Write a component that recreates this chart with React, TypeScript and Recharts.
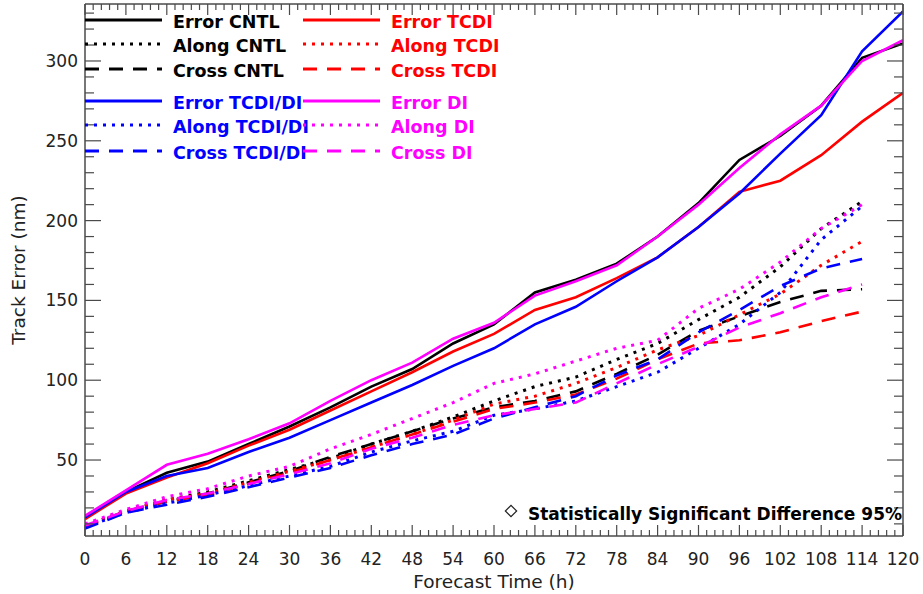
import React from 'react'
import { LineChart, Line, XAxis, YAxis } from 'recharts'

// forecast lead times (h)
const hours = [0, 6, 12, 18, 24, 30, 36, 42, 48, 54, 60, 66, 72, 78, 84, 90, 96, 102, 108, 114, 120]

// track errors (nm)
const errorCntl = [14, 30, 42, 49, 60, 71, 83, 96, 107, 123, 135, 155, 163, 173, 190, 211, 238, 253, 272, 302, 311]
const alongCntl = [9, 18, 25, 30, 37, 44, 51, 60, 68, 77, 87, 96, 102, 113, 123, 138, 152, 171, 195, 212]
const crossCntl = [8, 18, 24, 29, 36, 43, 52, 60, 68, 76, 83, 87, 93, 104, 116, 131, 140, 149, 156, 157]

const errorTcdi = [13, 29, 39, 48, 59, 69, 81, 93, 105, 118, 129, 144, 152, 164, 177, 196, 218, 225, 241, 262, 280]
const alongTcdi = [9, 18, 25, 29, 36, 43, 50, 58, 66, 75, 85, 90, 98, 108, 119, 128, 141, 154, 172, 187]
const crossTcdi = [8, 18, 24, 28, 35, 42, 50, 58, 66, 74, 82, 86, 91, 101, 113, 123, 125, 130, 137, 143]

const errorTcdiDi = [14, 30, 40, 45, 55, 64, 75, 86, 97, 109, 120, 135, 146, 162, 177, 196, 217, 242, 266, 306, 331]
const alongTcdiDi = [8, 17, 23, 28, 34, 40, 46, 55, 62, 68, 78, 82, 87, 96, 105, 120, 135, 155, 188, 209]
const crossTcdiDi = [7, 17, 22, 27, 33, 39, 45, 53, 60, 66, 76, 83, 90, 103, 113, 130, 144, 159, 170, 176]

const errorDi = [15, 31, 47, 54, 63, 73, 87, 100, 111, 126, 136, 153, 162, 172, 190, 210, 233, 254, 272, 300, 313]
const alongDi = [10, 19, 27, 32, 40, 46, 57, 66, 76, 86, 98, 104, 112, 120, 125, 145, 157, 174, 195, 210]
const crossDi = [9, 18, 25, 29, 35, 41, 48, 57, 64, 72, 78, 82, 86, 98, 110, 121, 133, 142, 152, 160]

const xLabels = hours
const yLabels = [50, 100, 150, 200, 250, 300]

const BLACK = '#000000'
const RED = '#ff0000'
const BLUE = '#0000ff'
const MAGENTA = '#ff00ff'
const DOTTED = '3 6'
const DASHED = '14 10'
const AXIS = '#4a4a4a'

const series = [
  { key: 'errorCntl', name: 'Error CNTL', values: errorCntl, color: BLACK, dash: undefined },
  { key: 'alongCntl', name: 'Along CNTL', values: alongCntl, color: BLACK, dash: DOTTED },
  { key: 'crossCntl', name: 'Cross CNTL', values: crossCntl, color: BLACK, dash: DASHED },
  { key: 'errorTcdi', name: 'Error TCDI', values: errorTcdi, color: RED, dash: undefined },
  { key: 'alongTcdi', name: 'Along TCDI', values: alongTcdi, color: RED, dash: DOTTED },
  { key: 'crossTcdi', name: 'Cross TCDI', values: crossTcdi, color: RED, dash: DASHED },
  { key: 'errorTcdiDi', name: 'Error TCDI/DI', values: errorTcdiDi, color: BLUE, dash: undefined },
  { key: 'alongTcdiDi', name: 'Along TCDI/DI', values: alongTcdiDi, color: BLUE, dash: DOTTED },
  { key: 'crossTcdiDi', name: 'Cross TCDI/DI', values: crossTcdiDi, color: BLUE, dash: DASHED },
  { key: 'errorDi', name: 'Error DI', values: errorDi, color: MAGENTA, dash: undefined },
  { key: 'alongDi', name: 'Along DI', values: alongDi, color: MAGENTA, dash: DOTTED },
  { key: 'crossDi', name: 'Cross DI', values: crossDi, color: MAGENTA, dash: DASHED },
]

const data = hours.map((h, i) => {
  const row: Record<string, number> = { hour: h }
  series.forEach((s) => {
    if (i < s.values.length) row[s.key] = s.values[i]
  })
  return row
})

// minor ticks: 5 per 6 h on x, every 10 nm on y
const xTicks = Array.from({ length: 101 }, (_, i) => +(i * 1.2).toFixed(2))
const yTicks = Array.from({ length: 33 }, (_, i) => 10 + i * 10)

const isMajorX = (v: number) => xLabels.includes(Math.round(v)) && Math.abs(v - Math.round(v)) < 0.01
const isMajorY = (v: number) => yLabels.includes(v)

const tickFont = { fontFamily: 'DejaVu Sans', fontSize: 17, fill: '#222' }

function BottomTick(props: any) {
  const { x, y, payload } = props
  const major = isMajorX(payload.value)
  return (
    <g>
      <line x1={x} x2={x} y1={y} y2={y - (major ? 11 : 6)} stroke={AXIS} strokeWidth={1.2} />
      {major && (
        <text x={x} y={y + 29} textAnchor="middle" {...tickFont}>
          {Math.round(payload.value)}
        </text>
      )}
    </g>
  )
}

function TopTick(props: any) {
  const { x, y, payload } = props
  const major = isMajorX(payload.value)
  return <line x1={x} x2={x} y1={y} y2={y + (major ? 11 : 6)} stroke={AXIS} strokeWidth={1.2} />
}

function LeftTick(props: any) {
  const { x, y, payload } = props
  const major = isMajorY(payload.value)
  return (
    <g>
      <line x1={x} x2={x + (major ? 16 : 9)} y1={y} y2={y} stroke={AXIS} strokeWidth={1.2} />
      {major && (
        <text x={x - 7} y={y + 6} textAnchor="end" {...tickFont}>
          {payload.value}
        </text>
      )}
    </g>
  )
}

function RightTick(props: any) {
  const { x, y, payload } = props
  const major = isMajorY(payload.value)
  return <line x1={x} x2={x - (major ? 16 : 9)} y1={y} y2={y} stroke={AXIS} strokeWidth={1.2} />
}

const legendRows = [20, 44, 69, 101, 125, 151]
const legendCols = [
  { lineX: 85, textX: 173 },
  { lineX: 303, textX: 391 },
]
// column 1: CNTL then TCDI/DI, column 2: TCDI then DI
const legendLayout = [
  ['errorCntl', 'errorTcdi'],
  ['alongCntl', 'alongTcdi'],
  ['crossCntl', 'crossTcdi'],
  ['errorTcdiDi', 'errorDi'],
  ['alongTcdiDi', 'alongDi'],
  ['crossTcdiDi', 'crossDi'],
]

function Overlay() {
  return (
    <svg
      width={923}
      height={594}
      style={{ position: 'absolute', left: 0, top: 0, pointerEvents: 'none' }}
    >
      {legendLayout.map((row, r) =>
        row.map((key, c) => {
          const s = series.find((d) => d.key === key)!
          const y = legendRows[r]
          const col = legendCols[c]
          return (
            <g key={key}>
              <line
                x1={col.lineX}
                x2={col.lineX + 77}
                y1={y}
                y2={y}
                stroke={s.color}
                strokeWidth={3.2}
                strokeDasharray={s.dash}
              />
              <text
                x={col.textX}
                y={y + 8}
                fontFamily="DejaVu Sans"
                fontWeight="bold"
                fontSize={17.5}
                fill={s.color}
              >
                {s.name}
              </text>
            </g>
          )
        })
      )}

      <text
        x={18}
        y={270}
        transform="rotate(-90 18 270)"
        textAnchor="middle"
        dominantBaseline="central"
        fontFamily="DejaVu Sans"
        fontSize={18.5}
        fill="#222"
      >
        Track Error (nm)
      </text>
      <text x={494} y={588} textAnchor="middle" fontFamily="DejaVu Sans" fontSize={18.5} fill="#222">
        Forecast Time (h)
      </text>

      <rect x={507} y={507} width={8} height={8} transform="rotate(45 511 511)" fill="none" stroke="#222" strokeWidth={1.2} />
      <text x={902} y={520} textAnchor="end" fontFamily="DejaVu Sans" fontWeight="bold" fontSize={17} fill="#000">
        Statistically Significant Difference 95%
      </text>
    </svg>
  )
}

export default function App() {
  return (
    <div style={{ position: 'absolute', left: 0, top: 0, width: 923, height: 594, background: '#fff' }}>
      <LineChart width={923} height={594} data={data} margin={{ top: 3, right: 0, bottom: 0, left: 0 }}>
        <XAxis
          dataKey="hour"
          type="number"
          domain={[0, 120]}
          allowDataOverflow
          ticks={xTicks}
          interval={0}
          height={58}
          tickSize={0}
          tickMargin={0}
          tickLine={false}
          tick={<BottomTick />}
          axisLine={{ stroke: AXIS, strokeWidth: 1.5 }}
        />
        <XAxis
          xAxisId="top"
          orientation="top"
          dataKey="hour"
          type="number"
          domain={[0, 120]}
          allowDataOverflow
          ticks={xTicks}
          interval={0}
          height={1}
          tickSize={0}
          tickMargin={0}
          tickLine={false}
          tick={<TopTick />}
          axisLine={{ stroke: AXIS, strokeWidth: 1.5 }}
        />
        <YAxis
          type="number"
          domain={[2.4, 335.7]}
          allowDataOverflow
          ticks={yTicks}
          interval={0}
          width={85}
          tickSize={0}
          tickMargin={0}
          tickLine={false}
          tick={<LeftTick />}
          axisLine={{ stroke: AXIS, strokeWidth: 1.5 }}
        />
        <YAxis
          yAxisId="right"
          orientation="right"
          type="number"
          domain={[2.4, 335.7]}
          allowDataOverflow
          ticks={yTicks}
          interval={0}
          width={20}
          tickSize={0}
          tickMargin={0}
          tickLine={false}
          tick={<RightTick />}
          axisLine={{ stroke: AXIS, strokeWidth: 1.5 }}
        />
        {series.map((s) => (
          <Line
            key={s.key}
            type="linear"
            dataKey={s.key}
            name={s.name}
            stroke={s.color}
            strokeWidth={s.dash === DOTTED ? 3 : 2.6}
            strokeDasharray={s.dash}
            dot={false}
            activeDot={false}
            isAnimationActive={false}
          />
        ))}
      </LineChart>
      <Overlay />
    </div>
  )
}
